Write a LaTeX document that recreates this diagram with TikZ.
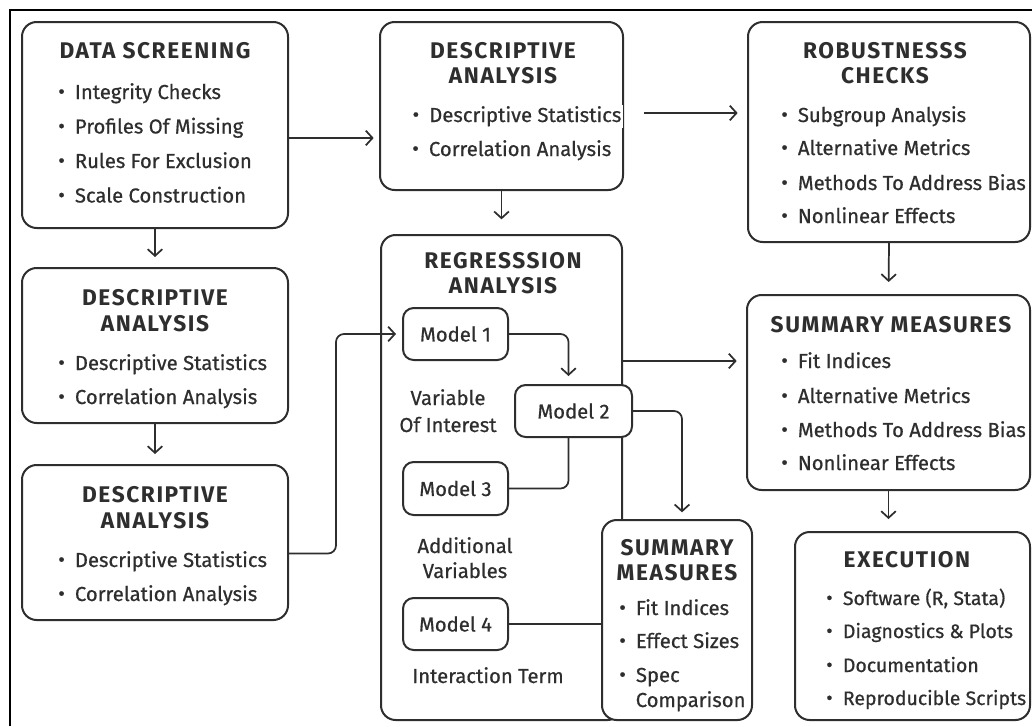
\documentclass[tikz,border=0pt]{standalone}
\usepackage{fontspec}
\setmainfont{Fira Sans}
\newfontfamily\bodyf{Fira Sans}[FakeBold=0.6]
\newfontfamily\ttlf{Fira Sans}[LetterSpace=7]
\usetikzlibrary{fit,arrows.meta,calc}
\definecolor{ink}{HTML}{2E2E2E}
\newcommand\bul{\makebox[12.5pt][l]{\raisebox{0.05ex}{\textbullet}}}
\begin{document}
\begin{tikzpicture}[x=0.75pt,y=-0.75pt,
  box/.style={draw=ink, line width=1.5pt, rounded corners=11pt, fill=white, inner sep=0pt},
  mbox/.style={draw=ink, line width=1.5pt, rounded corners=8pt, fill=white, inner sep=0pt},
  mtxt/.style={font=\bodyf\fontsize{15.2}{18}\selectfont, text=ink, inner sep=0pt},
  ttl/.style={anchor=base, font=\ttlf\bfseries\fontsize{17}{20}\selectfont, text=ink, inner sep=0pt},
  itm/.style={anchor=base west, font=\bodyf\fontsize{15.2}{18}\selectfont, text=ink, inner sep=0pt},
  itms/.style={itm, font=\bodyf\fontsize{14.6}{18}\selectfont},
  lbl/.style={anchor=base, font=\bodyf\fontsize{15.2}{18}\selectfont, text=ink, inner sep=0pt},
  arr/.style={draw=ink, line width=1.3pt, -{Straight Barb[length=5pt,width=11pt,line width=1.3pt]}},
  con/.style={draw=ink, line width=1.3pt},
]
\useasboundingbox (0,0) rectangle (1032,726);
% outer frame (top and left edges)
\draw[line width=1.5pt, black] (10,726) -- (10,10) -- (1032,10);

% ---------- left column ----------
\node[box, fit={(22,22)(288,228)}] (ds) {};
\node[ttl] (dst) at (155,58) {DATA SCREENING};
\node[itm] (ds1) at (58,99) {\bul Integrity Checks};
\node[itm] (ds2) at (58,133.5) {\bul Profiles Of Missing};
\node[itm] (ds3) at (58,168) {\bul Rules For Exclusion};
\node[itm] (ds4) at (58,202.5) {\bul Scale Construction};

\node[box, fit={(22,268)(288,423)}] (da) {};
\node[ttl] (dat1) at (155,305) {DESCRIPTIVE};
\node[ttl] (dat2) at (155,331) {ANALYSIS};
\node[itm] (da1) at (58,370) {\bul Descriptive Statistics};
\node[itm] (da2) at (58,404) {\bul Correlation Analysis};

\node[box, fit={(22,465)(288,620)}] (db) {};
\node[ttl] (dbt1) at (155,502) {DESCRIPTIVE};
\node[ttl] (dbt2) at (155,528) {ANALYSIS};
\node[itm] (db1) at (58,567) {\bul Descriptive Statistics};
\node[itm] (db2) at (58,601) {\bul Correlation Analysis};

% ---------- middle column ----------
\node[box, fit={(380,22)(623,190)}] (dm) {};
\node[ttl] (dmt1) at (503,58) {DESCRIPTIVE};
\node[ttl] (dmt2) at (503,83) {ANALYSIS};
\node[itm, fill=white, inner sep=1pt] (dm1) at (411,122) {\bul Descriptive Statistics};
\node[itm] (dm2) at (412,156) {\bul Correlation Analysis};

\node[box, fit={(381,235)(622,720)}] (rg) {};
\node[ttl] (rgt1) at (503,268) {REGRESSSION};
\node[ttl] (rgt2) at (503,293) {ANALYSIS};

\node[mbox, fit={(403,308)(508,360)}] (m1) {};
\node[mtxt] at (m1) {Model 1};
\node[mbox, fit={(515,385)(632,437)}] (m2) {};
\node[mtxt] at (m2) {Model 2};
\node[mbox, fit={(403,462)(508,515)}] (m3) {};
\node[mtxt] at (m3) {Model 3};
\node[mbox, fit={(403,598)(508,650)}] (m4) {};
\node[mtxt] at (m4) {Model 4};

\node[lbl] (v1) at (448,405) {Variable};
\node[lbl] (v2) at (448,432) {Of Interest};
\node[lbl] (a1) at (465,553) {Additional};
\node[lbl] (a2) at (465,578) {Variables};
\node[lbl] (it) at (488,683) {Interaction Term};

\node[box, fit={(602,520)(752,720)}] (sm) {};
\node[ttl] (smt1) at (677,555) {SUMMARY};
\node[ttl] (smt2) at (677,580) {MEASURES};
\node[itm] (sm1) at (619,615) {\bul Fit Indices};
\node[itm] (sm2) at (619,648) {\bul Effect Sizes};
\node[itm] (sm3) at (619,682) {\bul Spec};
\node[itm] (sm4) at (635.5,707) {Comparison};

% ---------- right column ----------
\node[box, fit={(748,22)(1030,242)}] (rb) {};
\node[ttl] (rbt1) at (885,58) {ROBUSTNESSS};
\node[ttl] (rbt2) at (885,83) {CHECKS};
\node[itm] (rb1) at (781,122) {\bul Subgroup Analysis};
\node[itm] (rb2) at (781,155) {\bul Alternative Metrics};
\node[itm] (rb3) at (781,190) {\bul Methods To Address Bias};
\node[itm] (rb4) at (781,223) {\bul Nonlinear Effects};

\node[box, fit={(747,295)(1030,490)}] (sr) {};
\node[ttl] (srt) at (891,332) {SUMMARY MEASURES};
\node[itm] (sr1) at (781,368) {\bul Fit Indices};
\node[itm] (sr2) at (781,403) {\bul Alternative Metrics};
\node[itm] (sr3) at (781,437) {\bul Methods To Address Bias};
\node[itm] (sr4) at (781,470) {\bul Nonlinear Effects};

\node[box, fit={(795,532)(1030,720)}] (ex) {};
\node[ttl] (ext) at (907,567) {EXECUTION};
\node[itms] (ex1) at (826,605) {\bul Software (R, Stata)};
\node[itms] (ex2) at (826,638) {\bul Diagnostics \& Plots};
\node[itms] (ex3) at (826,672) {\bul Documentation};
\node[itms] (ex4) at (826,705) {\bul Reproducible Scripts};

% ---------- connectors ----------
\coordinate (dsr) at ([yshift=-13*0.75pt]ds.east);
\draw[arr, shorten >=4pt] (dsr) -- (dsr -| dm.west);
\coordinate (dmr) at ([yshift=-7*0.75pt]dm.east);
\draw[arr, shorten <=15pt, shorten >=7pt] (dmr) -- (dmr -| rb.west);
\draw[arr, shorten >=7.5pt] (ds.south) -- (da.north);
\draw[arr, shorten >=7.5pt] (da.south) -- (db.north);
\draw[arr, shorten >=11pt] (dm.south) -- (rg.north);
\coordinate (dbr) at ([yshift=-11*0.75pt]db.east);
\draw[arr, rounded corners=6pt, shorten >=4.5pt] (dbr) -- ++(47,0) |- (m1.west);
\coordinate (m2t) at ([xshift=-5*0.75pt]m2.north);
\draw[arr, rounded corners=6pt, shorten >=6pt] (m1.east) -| (m2t);
\coordinate (m2b) at ([xshift=-5*0.75pt]m2.south);
\draw[con, rounded corners=6pt] (m2b) |- (m3.east);
\coordinate (smt) at ([xshift=5*0.75pt]sm.north);
\draw[arr, rounded corners=6pt, shorten >=5pt] (m2.east) -| (smt);
\draw[con] (m4.east) -- (m4.east -| sm.west);
\coordinate (rgr) at (rg.east |- m1.south);
\draw[arr, shorten >=7pt] (rgr) -- (rgr -| sr.west);
\draw[arr, shorten >=9pt] (rb.south) -- (sr.north);
\draw[arr, shorten >=9pt] (sr.south) -- (sr.south |- ex.north);
\end{tikzpicture}
\end{document}
